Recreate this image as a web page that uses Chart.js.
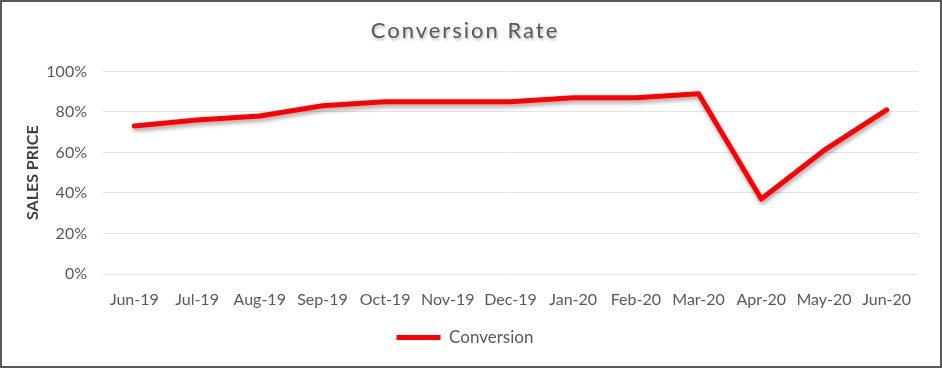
<!DOCTYPE html>
<html>
<head>
<meta charset="utf-8">
<script src="https://cdn.jsdelivr.net/npm/chart.js@4/dist/chart.umd.min.js"></script>
<style>
  html, body { margin: 0; padding: 0; background: #fff; }
  #frame {
    width: 942px; height: 368px; box-sizing: border-box;
    border: 2px solid #595959; background: #fff;
  }
  #frame canvas { display: block; }
</style>
</head>
<body>
<div id="frame"><canvas id="chart" width="938" height="364"></canvas></div>
<script>
const MONTHS = ['Jun-19', 'Jul-19', 'Aug-19', 'Sep-19', 'Oct-19', 'Nov-19', 'Dec-19',
                'Jan-20', 'Feb-20', 'Mar-20', 'Apr-20', 'May-20', 'Jun-20']
const CONVERSION = [73, 76, 78, 83, 85, 85, 85, 87, 87, 89, 37, 61, 81]
const SERIES_NAME = 'Conversion'
const CHART_TITLE = 'Conversion Rate'
const Y_TITLE = 'SALES PRICE'

const TEXT = '#595959'
const FONT = 'Lato, "Open Sans", sans-serif'

// excel-style shadow under the line
const lineShadow = {
  id: 'lineShadow',
  beforeDatasetDraw(chart) {
    const ctx = chart.ctx
    ctx.save()
    ctx.shadowColor   = 'rgba(0,0,0,0.35)'
    ctx.shadowBlur    = 4
    ctx.shadowOffsetX = 1
    ctx.shadowOffsetY = 3
  },
  afterDatasetDraw(chart) { chart.ctx.restore() }
}

// spaced-out title with a soft shadow
const titleStyle = {
  id: 'titleStyle',
  afterInit(chart) {
    const block = chart.titleBlock
    if (!block) return
    const draw = block.draw.bind(block)
    block.draw = () => {
      const ctx = chart.ctx
      ctx.save()
      ctx.letterSpacing = '2px'
      ctx.shadowColor   = 'rgba(0,0,0,0.3)'
      ctx.shadowBlur    = 3
      ctx.shadowOffsetX = 1
      ctx.shadowOffsetY = 2
      draw()
      ctx.restore()
    }
  }
}

new Chart(document.getElementById('chart').getContext('2d'), {
  type: 'line',
  data: {
    labels: MONTHS,
    datasets: [{
      label: SERIES_NAME,
      data: CONVERSION,
      borderColor: '#ff0000',
      backgroundColor: '#ff0000',
      borderWidth: 5,
      borderCapStyle: 'round',
      borderJoinStyle: 'round',
      pointRadius: 0,
      pointStyle: 'line',
      tension: 0
    }]
  },
  plugins: [lineShadow, titleStyle],
  options: {
    responsive: false,
    animation: false,
    layout: { padding: { left: 10, right: 22, top: 0, bottom: 10 } },
    scales: {
      x: {
        offset: true,
        grid: { display: false },
        border: { display: false },
        ticks: { color: TEXT, font: { family: FONT, size: 16 }, padding: 8, maxRotation: 0, autoSkip: false },
        afterFit: scale => { scale.height = 45 }
      },
      y: {
        min: 0, max: 100,
        grid: { color: '#e3e3e3', lineWidth: 1, drawTicks: false },
        border: { display: false },
        ticks: { stepSize: 20, color: TEXT, font: { family: FONT, size: 16 }, padding: 16, callback: v => v + '%' },
        title: { display: true, text: Y_TITLE, color: '#404040', font: { family: FONT, size: 16, weight: 'bold' }, padding: { top: 11, bottom: 0 } },
        afterFit: scale => { scale.width = 91 }
      }
    },
    plugins: {
      title: {
        display: true,
        text: CHART_TITLE,
        color: TEXT,
        font: { family: FONT, size: 22, weight: 'normal' },
        padding: { top: 16, bottom: 27 }
      },
      legend: {
        position: 'bottom',
        labels: {
          color: TEXT,
          font: { family: FONT, size: 17 },
          usePointStyle: true,
          pointStyleWidth: 44,
          boxHeight: 16,
          padding: 10
        }
      },
      tooltip: { enabled: false }
    }
  }
})
</script>
</body>
</html>
